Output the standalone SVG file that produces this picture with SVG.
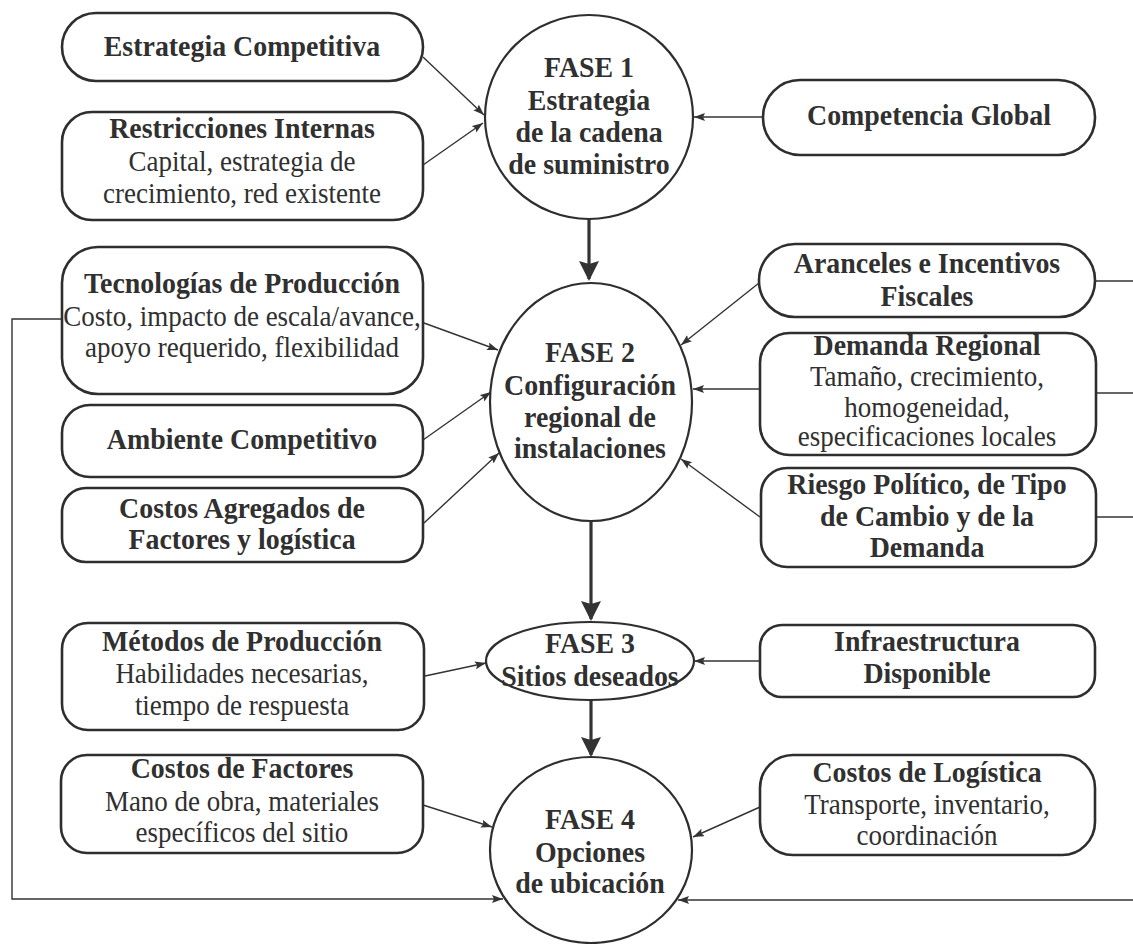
<svg xmlns="http://www.w3.org/2000/svg" width="1133" height="944" viewBox="0 0 1133 944">
  <style>
    .box { fill: #ffffff; stroke: #2e2e2e; stroke-width: 2.6; }
    .phase { fill: #ffffff; stroke: #2e2e2e; stroke-width: 2.2; }
    .t { font-family: "Liberation Serif", "Times New Roman", serif; font-size: 30px; fill: #303030; text-anchor: middle;
         transform-box: fill-box; transform-origin: center; transform: scaleX(0.9); }
    .b { font-weight: bold; transform: scaleX(0.93); }
    .link { fill: none; stroke: #333333; stroke-width: 1.4; }
    .flow { fill: none; stroke: #333333; stroke-width: 3.2; }
  </style>
  <defs>
    <marker id="tip" markerUnits="userSpaceOnUse" markerWidth="12" markerHeight="9" refX="11" refY="4" orient="auto">
      <path d="M0,0 L11,4 L0,8 L2,4 z" fill="#333333"/>
    </marker>
    <marker id="bigtip" markerUnits="userSpaceOnUse" markerWidth="22" markerHeight="22" refX="18" refY="10" orient="auto">
      <path d="M0,0 L20,10 L0,20 L3,10 z" fill="#333333"/>
    </marker>
  </defs>

  <!-- connectors -->
  <g id="connectors">
    <path class="link" d="M423,57 L484,115" marker-end="url(#tip)"/>
    <path class="link" d="M423,165 L483,123" marker-end="url(#tip)"/>
    <path class="link" d="M763,117 L694,117" marker-end="url(#tip)"/>
    <path class="link" d="M424,323 L498,350" marker-end="url(#tip)"/>
    <path class="link" d="M423,440 L491,392" marker-end="url(#tip)"/>
    <path class="link" d="M424,523 L499,453" marker-end="url(#tip)"/>
    <path class="link" d="M759,283 L681,345" marker-end="url(#tip)"/>
    <path class="link" d="M760,389 L693,389" marker-end="url(#tip)"/>
    <path class="link" d="M760,517 L681,459" marker-end="url(#tip)"/>
    <path class="link" d="M425,676 L486,663" marker-end="url(#tip)"/>
    <path class="link" d="M760,661 L694,661" marker-end="url(#tip)"/>
    <path class="link" d="M423,805 L492,827" marker-end="url(#tip)"/>
    <path class="link" d="M760,807 L693,837" marker-end="url(#tip)"/>
    <path class="link" d="M62,319 L12,319 L12,899 L503,899" marker-end="url(#tip)"/>
    <path class="link" d="M1133,900 L678,900" marker-end="url(#tip)"/>
    <path class="link" d="M1095,281 L1133,281"/>
    <path class="link" d="M1095,393 L1133,393"/>
    <path class="link" d="M1095,517 L1133,517"/>
    <path class="flow" d="M589,219 L589,279" marker-end="url(#bigtip)"/>
    <path class="flow" d="M591,521 L591,619" marker-end="url(#bigtip)"/>
    <path class="flow" d="M591,700 L591,755" marker-end="url(#bigtip)"/>
  </g>

  <!-- phases -->
  <g id="fase1">
    <ellipse class="phase" cx="589" cy="117" rx="104" ry="102"/>
    <text class="t b" x="589" y="77">FASE 1</text>
    <text class="t b" x="589" y="110">Estrategia</text>
    <text class="t b" x="589" y="142">de la cadena</text>
    <text class="t b" x="589" y="174">de suministro</text>
  </g>
  <g id="fase2">
    <ellipse class="phase" cx="591" cy="402" rx="101" ry="119"/>
    <text class="t b" x="590" y="362">FASE 2</text>
    <text class="t b" x="590" y="395">Configuración</text>
    <text class="t b" x="590" y="427">regional de</text>
    <text class="t b" x="590" y="458">instalaciones</text>
  </g>
  <g id="fase3">
    <ellipse class="phase" cx="590" cy="661" rx="104" ry="39"/>
    <text class="t b" x="590" y="653">FASE 3</text>
    <text class="t b" x="590" y="686">Sitios deseados</text>
  </g>
  <g id="fase4">
    <ellipse class="phase" cx="591" cy="850" rx="101" ry="93"/>
    <text class="t b" x="590" y="829">FASE 4</text>
    <text class="t b" x="590" y="862">Opciones</text>
    <text class="t b" x="590" y="893">de ubicación</text>
  </g>

  <!-- left-hand factors -->
  <g id="estrategia-competitiva">
    <rect class="box" x="62" y="13" width="361" height="68" rx="34"/>
    <text class="t b" x="242" y="56">Estrategia Competitiva</text>
  </g>
  <g id="restricciones-internas">
    <rect class="box" x="62" y="112" width="361" height="108" rx="30"/>
    <text class="t b" x="242" y="138">Restricciones Internas</text>
    <text class="t" x="242" y="171">Capital, estrategia de</text>
    <text class="t" x="242" y="203">crecimiento, red existente</text>
  </g>
  <g id="tecnologias-produccion">
    <rect class="box" x="62" y="247" width="361" height="147" rx="36"/>
    <text class="t b" x="242" y="293">Tecnologías de Producción</text>
    <text class="t" x="242" y="326">Costo, impacto de escala/avance,</text>
    <text class="t" x="242" y="357">apoyo requerido, flexibilidad</text>
  </g>
  <g id="ambiente-competitivo">
    <rect class="box" x="62" y="405" width="361" height="72" rx="28"/>
    <text class="t b" x="242" y="449">Ambiente Competitivo</text>
  </g>
  <g id="costos-agregados">
    <rect class="box" x="62" y="488" width="361" height="74" rx="24"/>
    <text class="t b" x="242" y="518">Costos Agregados de</text>
    <text class="t b" x="242" y="549">Factores y logística</text>
  </g>
  <g id="metodos-produccion">
    <rect class="box" x="62" y="623" width="362" height="107" rx="26"/>
    <text class="t b" x="242" y="651">Métodos de Producción</text>
    <text class="t" x="242" y="683">Habilidades necesarias,</text>
    <text class="t" x="242" y="715">tiempo de respuesta</text>
  </g>
  <g id="costos-factores">
    <rect class="box" x="61" y="755" width="362" height="98" rx="26"/>
    <text class="t b" x="242" y="778">Costos de Factores</text>
    <text class="t" x="242" y="811">Mano de obra, materiales</text>
    <text class="t" x="242" y="842">específicos del sitio</text>
  </g>

  <!-- right-hand factors -->
  <g id="competencia-global">
    <rect class="box" x="763" y="80" width="332" height="75" rx="37"/>
    <text class="t b" x="929" y="125">Competencia Global</text>
  </g>
  <g id="aranceles-incentivos">
    <rect class="box" x="759" y="244" width="336" height="73" rx="36"/>
    <text class="t b" x="927" y="273">Aranceles e Incentivos</text>
    <text class="t b" x="927" y="306">Fiscales</text>
  </g>
  <g id="demanda-regional">
    <rect class="box" x="760" y="333" width="336" height="122" rx="30"/>
    <text class="t b" x="927" y="355">Demanda Regional</text>
    <text class="t" x="927" y="386">Tamaño, crecimiento,</text>
    <text class="t" x="927" y="417">homogeneidad,</text>
    <text class="t" x="927" y="446">especificaciones locales</text>
  </g>
  <g id="riesgo-politico">
    <rect class="box" x="761" y="468" width="335" height="99" rx="26"/>
    <text class="t b" x="927" y="494">Riesgo Político, de Tipo</text>
    <text class="t b" x="927" y="526">de Cambio y de la</text>
    <text class="t b" x="927" y="557">Demanda</text>
  </g>
  <g id="infraestructura-disponible">
    <rect class="box" x="760" y="625" width="335" height="72" rx="22"/>
    <text class="t b" x="927" y="651">Infraestructura</text>
    <text class="t b" x="927" y="683">Disponible</text>
  </g>
  <g id="costos-logistica">
    <rect class="box" x="760" y="755" width="335" height="100" rx="33"/>
    <text class="t b" x="927" y="782">Costos de Logística</text>
    <text class="t" x="927" y="814">Transporte, inventario,</text>
    <text class="t" x="927" y="845">coordinación</text>
  </g>
</svg>
